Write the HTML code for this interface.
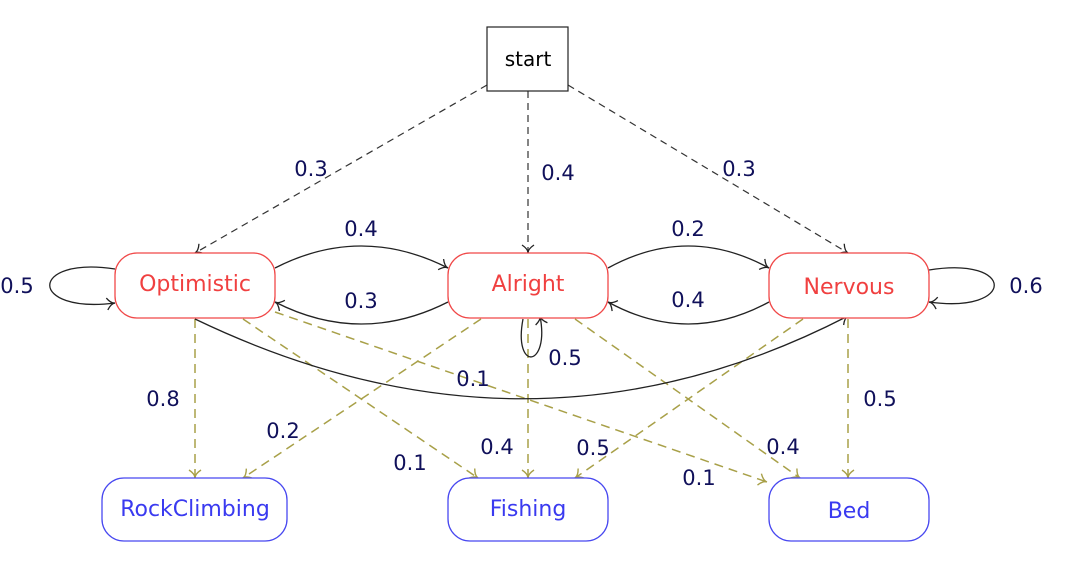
<!DOCTYPE html>
<html><head><meta charset="utf-8"><style>
html,body{margin:0;padding:0;background:#fff;}
svg{display:block;}
text{font-family:"DejaVu Sans","Liberation Sans",sans-serif;}
</style></head><body>
<svg width="1072" height="566" viewBox="0 0 1072 566" xmlns="http://www.w3.org/2000/svg">
<defs>
<marker id="ak" markerWidth="14" markerHeight="14" refX="10" refY="7" orient="auto" markerUnits="userSpaceOnUse">
<path d="M2,1 Q6,7 10,7 Q6,7 2,13" fill="none" stroke="#222" stroke-width="1.3"/></marker>
<marker id="ao" markerWidth="14" markerHeight="14" refX="10" refY="7" orient="auto" markerUnits="userSpaceOnUse">
<path d="M2,1 Q6,7 10,7 Q6,7 2,13" fill="none" stroke="#a8a048" stroke-width="1.4"/></marker>
</defs>
<g fill="none" stroke="#333" stroke-width="1.2" stroke-dasharray="7,5" marker-end="url(#ak)">
<line x1="487" y1="85" x2="195" y2="253"/>
<line x1="528" y1="91" x2="528" y2="253"/>
<line x1="568" y1="85" x2="848" y2="253"/>
</g>
<g fill="none" stroke="#a8a048" stroke-width="1.5" stroke-dasharray="9,6" marker-end="url(#ao)">
<line x1="195" y1="319" x2="195" y2="478"/>
<line x1="481" y1="319" x2="243" y2="478"/>
<line x1="243" y1="319" x2="478" y2="478"/>
<line x1="528" y1="319" x2="528" y2="478"/>
<line x1="803" y1="319" x2="575" y2="478"/>
<line x1="275" y1="312" x2="767" y2="482"/>
<line x1="575" y1="319" x2="800" y2="478"/>
<line x1="848" y1="319" x2="848" y2="478"/>
</g>
<g fill="none" stroke="#222" stroke-width="1.3" marker-end="url(#ak)">
<path d="M275,268 Q361,224 448,268"/>
<path d="M448,302 Q361,346 275,302"/>
<path d="M608,268 Q688,224 769,268"/>
<path d="M769,302 Q688,346 608,302"/>
<path d="M115,269 C28,256 28,314 115,303"/>
<path d="M929,270 C1016,256 1016,314 929,302"/>
<path d="M523,319 C513,372 550,368 540,316"/>
<path d="M195,319 Q530,480 848,316"/>
</g>
<rect x="487" y="27" width="81" height="64" fill="#fff" stroke="#222" stroke-width="1.2"/>
<text x="528" y="66" font-size="20" text-anchor="middle" fill="#000">start</text>
<g fill="#fff" stroke="#f04848" stroke-width="1.3">
<rect x="115" y="253" width="160" height="65" rx="22"/>
<rect x="448" y="253" width="160" height="65" rx="22"/>
<rect x="769" y="253" width="160" height="65" rx="22"/>
</g>
<g fill="#fff" stroke="#4848f0" stroke-width="1.3">
<rect x="102" y="478" width="185" height="63" rx="22"/>
<rect x="448" y="478" width="160" height="63" rx="22"/>
<rect x="769" y="478" width="160" height="63" rx="22"/>
</g>
<g font-size="22" text-anchor="middle" fill="#f04040">
<text x="195" y="291">Optimistic</text>
<text x="528" y="291">Alright</text>
<text x="849" y="294">Nervous</text>
</g>
<g font-size="22" text-anchor="middle" fill="#3a3af0">
<text x="195" y="516">RockClimbing</text>
<text x="528" y="516">Fishing</text>
<text x="849" y="518">Bed</text>
</g>
<g font-size="21" text-anchor="middle" fill="#10105a">
<text x="311" y="176">0.3</text>
<text x="558" y="180">0.4</text>
<text x="739" y="176">0.3</text>
<text x="361" y="236">0.4</text>
<text x="361" y="308">0.3</text>
<text x="688" y="236">0.2</text>
<text x="688" y="307">0.4</text>
<text x="17" y="293">0.5</text>
<text x="1026" y="293">0.6</text>
<text x="565" y="365">0.5</text>
<text x="473" y="386">0.1</text>
<text x="163" y="406">0.8</text>
<text x="880" y="406">0.5</text>
<text x="283" y="438">0.2</text>
<text x="410" y="470">0.1</text>
<text x="497" y="454">0.4</text>
<text x="593" y="455">0.5</text>
<text x="783" y="454">0.4</text>
<text x="699" y="485">0.1</text>
</g>
</svg>
</body></html>
